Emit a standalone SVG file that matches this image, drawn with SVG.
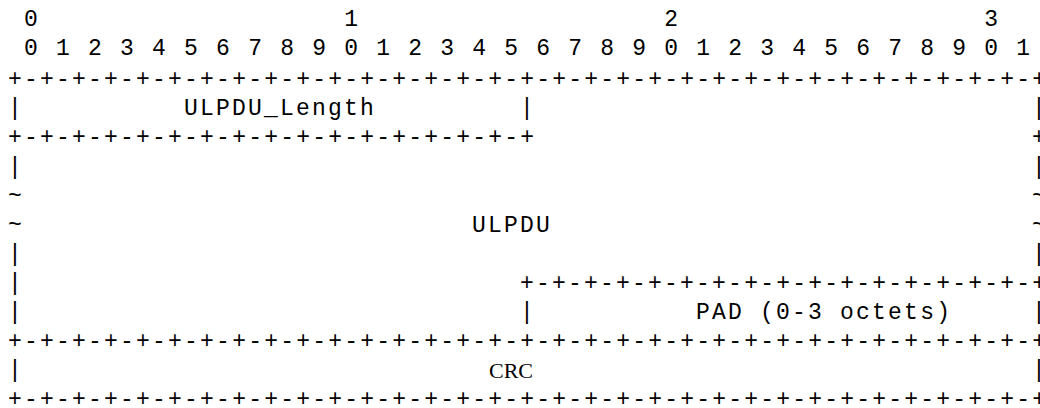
<svg xmlns="http://www.w3.org/2000/svg" width="1040" height="408" viewBox="0 0 1040 408">
<style>
.t{font-family:"Liberation Mono","Courier New",monospace;font-size:23px;letter-spacing:2.2px;fill:#000;white-space:pre}
.s{font-family:"Liberation Serif","Times New Roman",serif;font-size:22px;fill:#000;text-anchor:middle}
</style>
<rect width="1040" height="408" fill="#fff"/>
<g id="ruler">
<text class="t" x="24.1" y="26" xml:space="preserve">0                   1                   2                   3</text>
<text class="t" x="24.1" y="55.2" xml:space="preserve">0 1 2 3 4 5 6 7 8 9 0 1 2 3 4 5 6 7 8 9 0 1 2 3 4 5 6 7 8 9 0 1</text>
</g>
<g id="connectors">
<text class="t" x="8.1" y="86.2">+-+-+-+-+-+-+-+-+-+-+-+-+-+-+-+-+-+-+-+-+-+-+-+-+-+-+-+-+-+-+-+-+</text>
<text class="t" x="8.1" y="115.3">|</text>
<text class="t" x="520.1" y="115.3">|</text>
<text class="t" x="1032.1" y="115.3">|</text>
<text class="t" x="8.1" y="144.4">+-+-+-+-+-+-+-+-+-+-+-+-+-+-+-+-+</text>
<text class="t" x="1032.1" y="144.4">+</text>
<text class="t" x="8.1" y="173.5">|</text>
<text class="t" x="1032.1" y="173.5">|</text>
<text class="t" x="8.1" y="202.6">~</text>
<text class="t" x="1032.1" y="202.6">~</text>
<text class="t" x="8.1" y="231.7">~</text>
<text class="t" x="1032.1" y="231.7">~</text>
<text class="t" x="8.1" y="260.8">|</text>
<text class="t" x="1032.1" y="260.8">|</text>
<text class="t" x="8.1" y="289.9">|</text>
<text class="t" x="520.1" y="289.9">+-+-+-+-+-+-+-+-+-+-+-+-+-+-+-+-+</text>
<text class="t" x="8.1" y="319">|</text>
<text class="t" x="520.1" y="319">|</text>
<text class="t" x="1032.1" y="319">|</text>
<text class="t" x="8.1" y="348.1">+-+-+-+-+-+-+-+-+-+-+-+-+-+-+-+-+-+-+-+-+-+-+-+-+-+-+-+-+-+-+-+-+</text>
<text class="t" x="8.1" y="377.2">|</text>
<text class="t" x="1032.1" y="377.2">|</text>
<text class="t" x="8.1" y="406.3">+-+-+-+-+-+-+-+-+-+-+-+-+-+-+-+-+-+-+-+-+-+-+-+-+-+-+-+-+-+-+-+-+</text>
</g>
<g id="ulpdu-length"><text class="t" x="184.1" y="115.3">ULPDU_Length</text></g>
<g id="ulpdu"><text class="t" x="472.1" y="231.7">ULPDU</text></g>
<g id="pad"><text class="t" x="696.1" y="319">PAD (0-3 octets)</text></g>
<g id="crc"><text class="s" x="511" y="378">CRC</text></g>
</svg>
